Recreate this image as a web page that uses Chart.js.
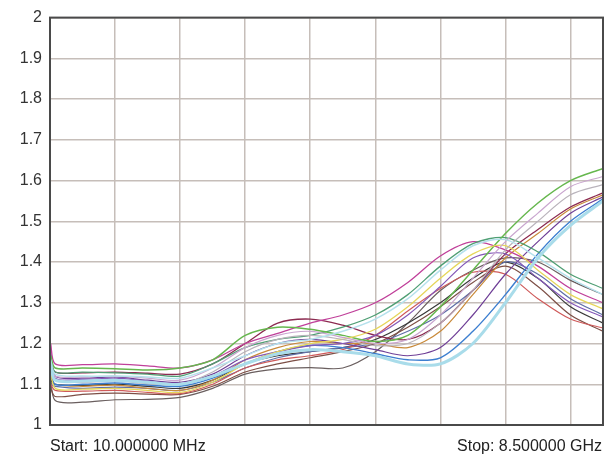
<!DOCTYPE html>
<html>
<head>
  <title>VSWR sweep</title>
  <script src="https://cdn.jsdelivr.net/npm/chart.js"></script>
  <style>
    body { margin: 0; background: #fff; }
    #wrap { position: relative; width: 615px; height: 458px; }
    .foot { position: absolute; top: 437px; font: 16px "Liberation Sans", Arial, sans-serif; color: #222; }
    #startLbl { left: 50px; }
    #stopLbl { right: 13px; }
  </style>
</head>
<body>
<div id="wrap">
  <canvas id="sweepChart"></canvas>
  <span class="foot" id="startLbl">Start: 10.000000 MHz</span>
  <span class="foot" id="stopLbl">Stop: 8.500000 GHz</span>
</div>

<script>
  // sweep frequencies (GHz), 10 MHz .. 8.5 GHz
  const freqGHz = [0.01, 0.08, 0.5, 1, 1.5, 2, 2.5, 3, 3.5, 4, 4.5, 5, 5.5, 6, 6.5, 7, 7.5, 8, 8.5];
  const yTicks = [1, 1.1, 1.2, 1.3, 1.4, 1.5, 1.6, 1.7, 1.8, 1.9, 2];

  // traces that dip around 5.5 GHz and climb to the top right
  const maroonTrace = [1.16, 1.13, 1.128, 1.13, 1.127, 1.125, 1.15, 1.2, 1.25, 1.26, 1.245, 1.22, 1.21, 1.25, 1.33, 1.42, 1.48, 1.535, 1.57];
  const greenTrace = [1.17, 1.14, 1.14, 1.138, 1.135, 1.14, 1.16, 1.22, 1.24, 1.235, 1.22, 1.205, 1.22, 1.29, 1.38, 1.47, 1.545, 1.6, 1.63];
  const lavenderTrace = [1.15, 1.12, 1.118, 1.12, 1.115, 1.11, 1.14, 1.19, 1.22, 1.23, 1.215, 1.2, 1.21, 1.27, 1.36, 1.45, 1.52, 1.585, 1.61];
  const lightGrayTrace = [1.13, 1.11, 1.105, 1.108, 1.102, 1.1, 1.13, 1.18, 1.21, 1.22, 1.21, 1.195, 1.2, 1.25, 1.33, 1.43, 1.5, 1.565, 1.59];
  const orangeTrace = [1.12, 1.1, 1.095, 1.098, 1.09, 1.085, 1.11, 1.16, 1.19, 1.205, 1.2, 1.2, 1.19, 1.23, 1.32, 1.41, 1.47, 1.53, 1.565];
  const purpleTrace = [1.18, 1.12, 1.115, 1.118, 1.11, 1.105, 1.125, 1.17, 1.2, 1.21, 1.2, 1.185, 1.17, 1.19, 1.27, 1.37, 1.45, 1.52, 1.56];
  const blueTrace = [1.13, 1.1, 1.1, 1.103, 1.098, 1.095, 1.115, 1.15, 1.18, 1.195, 1.19, 1.175, 1.16, 1.165, 1.23, 1.32, 1.42, 1.5, 1.555];
  const cyanTrace = [1.15, 1.11, 1.108, 1.11, 1.105, 1.1, 1.12, 1.15, 1.175, 1.185, 1.18, 1.17, 1.15, 1.15, 1.2, 1.3, 1.41, 1.49, 1.55];

  // traces that peak around 6.5-7 GHz and fall off
  const magentaTrace = [1.2, 1.15, 1.148, 1.15, 1.145, 1.14, 1.16, 1.2, 1.225, 1.25, 1.27, 1.3, 1.35, 1.415, 1.45, 1.43, 1.39, 1.335, 1.3];
  const tealTrace = [1.17, 1.13, 1.13, 1.128, 1.125, 1.12, 1.15, 1.19, 1.21, 1.22, 1.24, 1.27, 1.32, 1.39, 1.445, 1.46, 1.425, 1.37, 1.335];
  const paleCyanTrace = [1.16, 1.125, 1.12, 1.12, 1.118, 1.115, 1.14, 1.17, 1.2, 1.21, 1.23, 1.26, 1.31, 1.38, 1.44, 1.455, 1.41, 1.36, 1.32];
  const yellowTrace = [1.14, 1.09, 1.088, 1.09, 1.085, 1.08, 1.105, 1.15, 1.18, 1.2, 1.21, 1.235, 1.29, 1.36, 1.42, 1.44, 1.38, 1.32, 1.285];
  const violetTrace = [1.17, 1.115, 1.112, 1.115, 1.108, 1.1, 1.12, 1.16, 1.18, 1.195, 1.2, 1.22, 1.27, 1.34, 1.41, 1.42, 1.36, 1.3, 1.265];
  const darkGrayTrace = [1.12, 1.06, 1.056, 1.062, 1.063, 1.068, 1.09, 1.125, 1.138, 1.141, 1.14, 1.18, 1.25, 1.33, 1.38, 1.41, 1.4, 1.355, 1.32];
  const blackTrace = [1.11, 1.1, 1.097, 1.1, 1.095, 1.09, 1.11, 1.15, 1.17, 1.18, 1.19, 1.21, 1.25, 1.3, 1.36, 1.4, 1.36, 1.29, 1.25];
  const redTrace = [1.1, 1.085, 1.083, 1.085, 1.08, 1.077, 1.1, 1.14, 1.16, 1.17, 1.185, 1.22, 1.28, 1.335, 1.375, 1.37, 1.31, 1.26, 1.238];
  const brownTrace = [1.09, 1.07, 1.075, 1.078, 1.076, 1.075, 1.095, 1.13, 1.15, 1.165, 1.18, 1.2, 1.24, 1.29, 1.35, 1.39, 1.34, 1.27, 1.23];
  const slateTrace = [1.1, 1.095, 1.09, 1.093, 1.09, 1.085, 1.105, 1.14, 1.165, 1.18, 1.19, 1.2, 1.23, 1.27, 1.33, 1.4, 1.37, 1.31, 1.27];

  const traces = [
    [cyanTrace, "#a9dcea", 3],
    [paleCyanTrace, "#b5e1ec", 1.5],
    [lightGrayTrace, "#b9b3bb", 1.2],
    [lavenderTrace, "#c9a6cf", 1.2],
    [yellowTrace, "#e6d65a", 1.3],
    [greenTrace, "#66b74e", 1.5],
    [tealTrace, "#4f9f74", 1.3],
    [magentaTrace, "#c0409a", 1.3],
    [violetTrace, "#8458b8", 1.2],
    [purpleTrace, "#6f3f97", 1.2],
    [blueTrace, "#3d7fd0", 1.4],
    [orangeTrace, "#c98a3a", 1.2],
    [maroonTrace, "#8c2a50", 1.3],
    [redTrace, "#cf5a5a", 1.2],
    [brownTrace, "#7d4f46", 1.2],
    [slateTrace, "#5f6fa8", 1.2],
    [blackTrace, "#3a3a3a", 1.2],
    [darkGrayTrace, "#6a5f5f", 1.2]
  ];

  const datasets = traces.map(([vals, color, w]) => ({
    data: freqGHz.map((f, i) => ({ x: f, y: vals[i] })),
    borderColor: color,
    borderWidth: w,
    pointRadius: 0,
    tension: 0.3,
    fill: false
  }));

  // dark frame round the whole plot area
  const frame = {
    id: "frame",
    afterDraw(chart) {
      const { ctx, chartArea: a } = chart;
      ctx.save();
      ctx.strokeStyle = "#4a4a4a";
      ctx.lineWidth = 2;
      ctx.strokeRect(a.left, a.top, a.right - a.left, a.bottom - a.top);
      ctx.restore();
    }
  };

  new Chart(document.getElementById("sweepChart"), {
    type: "line",
    data: { datasets },
    plugins: [frame],
    options: {
      responsive: true,
      maintainAspectRatio: false,
      animation: false,
      layout: { padding: { top: 12, right: 12, bottom: 33, left: 0 } },
      plugins: { legend: { display: false }, tooltip: { enabled: false } },
      scales: {
        x: {
          type: "linear",
          min: 0,
          max: 8.5,
          ticks: { display: false, stepSize: 1 },
          grid: { color: "#c6beb9", lineWidth: 1.5, drawTicks: false },
          border: { display: false }
        },
        y: {
          min: 1,
          max: 2,
          afterFit(scale) { scale.width = 50; },
          afterBuildTicks(scale) { scale.ticks = yTicks.map(v => ({ value: v })); },
          ticks: {
            padding: 8,
            color: "#333",
            font: { family: "Liberation Sans", size: 16 },
            callback: v => String(Number(v.toFixed(1)))
          },
          grid: { color: "#c6beb9", lineWidth: 1.5, drawTicks: false },
          border: { display: false }
        }
      }
    }
  });
</script>
</body>
</html>
